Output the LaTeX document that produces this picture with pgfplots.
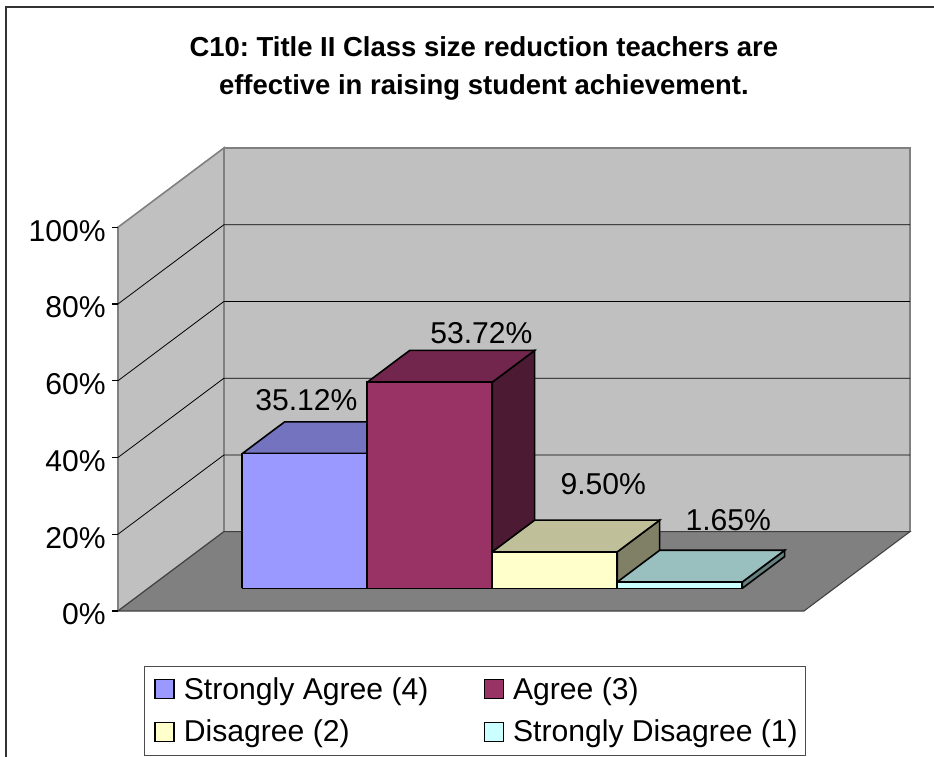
\documentclass[border=0pt]{standalone}
\usepackage{pgfplots}
\pgfplotsset{compat=1.18}
\usepackage{fontspec}
\setmainfont{Liberation Sans}

% 1 px of the reference = 0.75pt, so the page is 934x756 px
\definecolor{wallc}{HTML}{C0C0C0}
\definecolor{floorc}{HTML}{808080}
\definecolor{agreeA}{HTML}{9999FF}
\definecolor{agreeAtop}{HTML}{7373BF}
\definecolor{agreeB}{HTML}{993366}
\definecolor{agreeBtop}{HTML}{73264D}
\definecolor{agreeBside}{HTML}{4D1A33}
\definecolor{disA}{HTML}{FFFFCC}
\definecolor{disAtop}{HTML}{BFBF99}
\definecolor{disAside}{HTML}{808066}
\definecolor{disB}{HTML}{CCFFFF}
\definecolor{disBtop}{HTML}{99BFBF}
\definecolor{disBside}{HTML}{668080}

% one box: category, value, front, top and side colours
\newcommand{\barbox}[5]{
  \addplot3[forget plot,fill=#5,draw=black,line width=1.2pt] coordinates {(#1+0.5,0.286,0)(#1+0.5,0.686,0)(#1+0.5,0.686,#2)(#1+0.5,0.286,#2)(#1+0.5,0.286,0)};
  \addplot3[forget plot,fill=#4,draw=black,line width=1.2pt] coordinates {(#1-0.5,0.286,#2)(#1+0.5,0.286,#2)(#1+0.5,0.686,#2)(#1-0.5,0.686,#2)(#1-0.5,0.286,#2)};
  \addplot3[forget plot,fill=#3,draw=black,line width=1.2pt] coordinates {(#1-0.5,0.286,0)(#1+0.5,0.286,0)(#1+0.5,0.286,#2)(#1-0.5,0.286,#2)(#1-0.5,0.286,0)};
}
\newcommand{\gridlevel}[1]{
  \addplot3[forget plot,black,line width=0.6pt] coordinates {(-1.252,0,#1)(-1.252,1,#1)(4.236,1,#1)};
}
\newcommand{\tickmark}[1]{
  \addplot3[forget plot,black,line width=0.8pt] coordinates {(-1.30,0,#1)(-1.252,0,#1)};
}

\begin{document}
\begin{tikzpicture}
\useasboundingbox (0,0) rectangle (700.5pt,567pt);
\fill[white] (0,0) rectangle (700.5pt,567pt);
\draw[black!80,line width=1.4pt] (4.2pt,-2pt) -- (4.2pt,561.8pt) -- (703pt,561.8pt);
\begin{axis}[
    at={(205.85pt,108.75pt)}, anchor=origin,
    x={(93.75pt,0pt)}, y={(79.5pt,59.5pt)}, z={(0pt,2.878pt)},
    xmin=-1.252, xmax=4.236, ymin=0, ymax=1, zmin=0, zmax=100,
    clip=false,
    axis lines=left,
    hide x axis, hide y axis,
    axis line style={draw=none, -},
    ztick={0,20,40,60,80,100},
    zticklabel={\pgfmathprintnumber{\tick}\%},
    ticklabel style={font=\fontsize{22.6}{26}\selectfont},
    zticklabel style={anchor=east, xshift=-2pt},
    /pgf/number format/assume math mode=true,
    z tick style={draw=none},
    tick align=outside,
    major tick length=4.5pt,
    title={C10: Title II Class size reduction teachers are\\effective in raising student achievement.},
    title style={at={(axis description cs:0.462,1.0745)}, anchor=south, align=center,
        font=\fontsize{20.6}{29}\selectfont\bfseries\frenchspacing},
    legend columns=2,
    legend cell align=left,
    legend style={at={(axis description cs:0.0328,-0.118)}, anchor=north west,
        draw=black!70, line width=0.8pt, font=\fontsize{22.6}{26}\selectfont,
        inner xsep=3.75pt, inner ysep=6.5pt, row sep=10pt,
        /tikz/column 1/.style={column sep=5pt},
        /tikz/column 2/.style={column sep=35.7pt},
        /tikz/column 3/.style={column sep=5pt}},
    legend image code/.code={\path (0pt,0pt); \draw[#1,line width=0.8pt] (3.75pt,-7pt) rectangle (18pt,7.25pt);},
]
% walls and floor
\addplot3[forget plot,fill=wallc,draw=floorc,line width=1.2pt] coordinates {(-1.252,1,0)(4.236,1,0)(4.236,1,100)(-1.252,1,100)(-1.252,1,0)};
\addplot3[forget plot,fill=wallc,draw=floorc,line width=1.2pt] coordinates {(-1.252,0,0)(-1.252,1,0)(-1.252,1,100)(-1.252,0,100)(-1.252,0,0)};
\gridlevel{20}\gridlevel{40}\gridlevel{60}\gridlevel{80}
\addplot3[forget plot,fill=floorc,draw=black!75,line width=0.8pt] coordinates {(-1.252,0,0)(4.236,0,0)(4.236,1,0)(-1.252,1,0)(-1.252,0,0)};
\tickmark{0}\tickmark{20}\tickmark{40}\tickmark{60}\tickmark{80}\tickmark{100}

% bars
\barbox{0}{35.12}{agreeA}{agreeAtop}{agreeAtop}
\barbox{1}{53.72}{agreeB}{agreeBtop}{agreeBside}
\barbox{2}{9.50}{disA}{disAtop}{disAside}
\barbox{3}{1.65}{disB}{disBtop}{disBside}

% data labels
\node[font=\fontsize{22.6}{26}\selectfont,xshift=-30.6pt,yshift=16.1pt] at (axis cs:0,0.686,35.12) {35.12\%};
\node[font=\fontsize{22.6}{26}\selectfont,xshift=6.9pt,yshift=12.8pt] at (axis cs:1,0.686,53.72) {53.72\%};
\node[font=\fontsize{22.6}{26}\selectfont,xshift=4.6pt,yshift=27pt] at (axis cs:2,0.686,9.50) {9.50\%};
\node[font=\fontsize{22.6}{26}\selectfont,xshift=4.6pt,yshift=22.5pt] at (axis cs:3,0.686,1.65) {1.65\%};

\addlegendimage{fill=agreeA,draw=black}
\addlegendentry{Strongly Agree (4)}
\addlegendimage{fill=agreeB,draw=black}
\addlegendentry{Agree (3)}
\addlegendimage{fill=disA,draw=black}
\addlegendentry{Disagree (2)}
\addlegendimage{fill=disB,draw=black}
\addlegendentry{Strongly Disagree (1)}
\end{axis}
\end{tikzpicture}
\end{document}
